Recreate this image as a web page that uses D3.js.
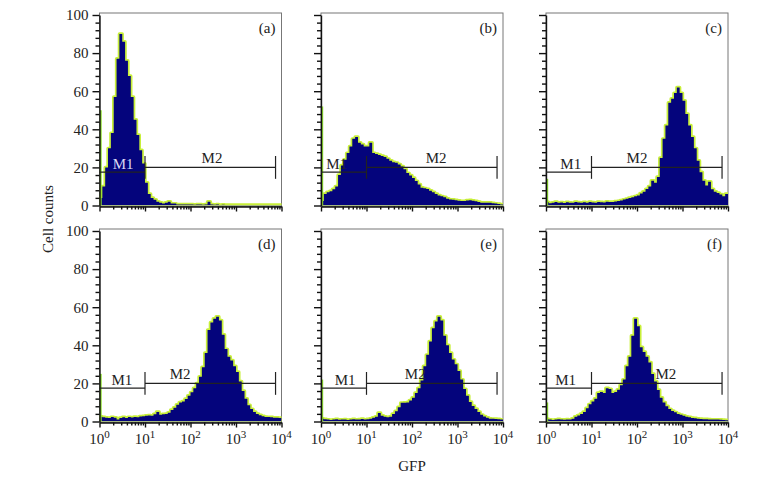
<!doctype html>
<meta charset="utf-8">
<title>GFP flow cytometry histograms</title>
<script src="https://cdn.jsdelivr.net/npm/d3@7"></script>
<style>
body {
  margin: 0;
  background: #fff;
}
svg text {
  font-family: "Liberation Serif", "Times New Roman", serif;
  fill: #222;
}
.axis path, .axis line {
  stroke: #111;
  stroke-width: 1.4;
}
</style>

<svg id="chart" width="772" height="477"></svg>

<script>
// counts per channel, 16 channels per decade from 10^0 to 10^4
var binsPerDecade = 16;

var countsA = [4, 10, 20, 30, 38, 57, 77, 90, 86, 76, 68, 57, 45, 37, 29, 22,
  12, 6, 4, 3, 2, 1.5, 1, 1.5, 2, 1, 1, 0.5, 0.5, 0.5, 0.5, 0.5,
  0.5, 0.4, 0.5, 0.5, 0.4, 0.5, 2, 0.5, 0.4, 0.5, 0.3, 0.4, 0.3, 0.3,
  0.3, 0.3, 0.3, 0.3, 0.3, 0.3, 0.3, 0.3, 0.3, 0.3, 0.3, 0.3, 0.3, 0.3, 0.3, 0.3, 0.3, 0.3];

var countsB = [2.3, 6, 7, 7.5, 8.5, 10, 16, 21, 24, 27.5, 31, 35, 36, 33, 32, 31,
  31, 33, 27.5, 27, 26.5, 26, 25.5, 24.5, 23.5, 22.7, 22.4, 21.5, 20.5, 19, 17, 15.8,
  14.5, 12.8, 11, 9.3, 9, 8.6, 7.8, 7, 6, 5.3, 4.8, 4.3, 3.6, 3.1, 3, 2.8,
  2.5, 2.3, 2.3, 2.6, 2.8, 2.5, 2.2, 1.8, 1.5, 1.5, 1.5, 1.5, 1.2, 1, 0.8, 0.5];

var countsC = [1.7, 1.2, 1.5, 1.8, 1.4, 1.6, 1.3, 1.7, 1.5, 1.4, 1.8, 1.6, 1.5, 1.7, 1.4, 1.9,
  1.6, 1.5, 1.8, 1.7, 1.6, 2, 1.8, 1.9, 2.1, 2.3, 2.6, 3.1, 3.5, 4, 4.3, 4.8,
  5.3, 6.3, 7.2, 8.6, 10, 13, 12, 15, 25, 35, 42, 54, 56, 59, 62, 59,
  55, 48, 42, 36, 30, 23.5, 17.5, 13, 10.5, 12.5, 8.5, 7.2, 6.6, 5.8, 4.9, 6];

var countsD = [2.5, 2.2, 2, 1.8, 2.3, 2, 1, 1.8, 2.2, 1.9, 2.3, 2.1, 2.4, 2.2, 2.6, 2.8,
  3, 3.2, 3, 3.8, 5, 3.5, 3.8, 4, 4.6, 6, 7.2, 8.8, 10, 10.5, 11.8, 13.5,
  15.3, 17.5, 20, 23.5, 28.5, 36, 48, 52, 54, 55, 53, 45.5, 38, 34, 32, 29,
  26, 21, 16, 12, 8.5, 6.5, 5, 4, 3.3, 2.8, 2.4, 2.3, 2.2, 2, 2, 1.8];

var countsE = [1.5, 1.2, 1, 0.8, 1, 1.2, 0.9, 1, 1.1, 0.8, 1, 1.2, 1, 1.1, 1.3, 1,
  1.2, 1.5, 2, 2.5, 4.5, 3, 2.5, 2.2, 2.5, 4, 5.4, 7.5, 9.8, 9.9, 10, 11,
  12.5, 15, 17.5, 21.5, 29, 35, 42, 49, 52.5, 55, 53, 45, 40, 36, 32.5, 30,
  26.5, 22, 17, 13.5, 10.3, 8.2, 6.6, 5, 3.5, 2.6, 2, 1.5, 1.4, 1.3, 1.2, 1];

var countsF = [1.2, 1, 0.8, 1, 1.2, 1, 0.9, 1.1, 1, 1.5, 2.5, 3.2, 4, 5, 7, 9,
  10.5, 12, 15, 15.5, 15, 17.5, 17, 15, 15.5, 16.7, 19, 22, 29, 34, 45, 54,
  50, 39, 36.5, 34, 31, 25, 21, 16.5, 12.5, 10, 8, 6.5, 5.5, 4.8, 4, 3.5,
  3, 2.5, 2.2, 1.9, 1.7, 1.5, 1.3, 1.2, 1.2, 1.1, 1, 1, 1, 0.9, 0.8, 0.7];

var panelNames = ["(a)", "(b)", "(c)", "(d)", "(e)", "(f)"];
var panelCounts = [countsA, countsB, countsC, countsD, countsE, countsF];
// first-channel (off-scale low) spike, counts
var spikeCounts = [50, 52, 14, 25, 22, 10];

// gate markers
var gateM1 = [1, 10], levelM1 = 17.5;
var gateM2 = [10, 7400], levelM2 = 20;
// GFP value under each marker label
var labelM1At = [3.3, 2.2, 3.5, 3.1, 3.4, 2.7];
var labelM2At = [297, 339, 100, 59, 118, 430];

var yTicks = [0, 20, 40, 60, 80, 100];
var xTickExps = [0, 1, 2, 3, 4];

var svg = d3.select("#chart");
var panelW = 182, panelH = 190.5;
var colLeft = [99.5, 321, 546], rowTop = [15, 231];

var x = d3.scaleLog().domain([1, 1e4]).range([0, panelW]);
var y = d3.scaleLinear().domain([0, 100]).range([panelH, 0]);

var defs = svg.append("defs");
defs.append("clipPath").attr("id", "plotClip")
  .append("rect")
  .attr("x", 0).attr("y", -2)
  .attr("width", panelW).attr("height", panelH + 2);

var area = d3.area()
  .curve(d3.curveStepAfter)
  .x(function(d) { return x(d[0]); })
  .y0(y(0))
  .y1(function(d) { return y(d[1]); });

var yMinor = d3.range(0, 101, 4).filter(function(v) { return v % 20 !== 0; });
var xMajor = xTickExps.map(function(e) { return Math.pow(10, e); });
var xMinor = [];
xTickExps.slice(0, -1).forEach(function(e) {
  d3.range(2, 10).forEach(function(m) { xMinor.push(m * Math.pow(10, e)); });
});

panelCounts.forEach(function(counts, i) {
  var col = i % 3, row = Math.floor(i / 3);
  var g = svg.append("g")
    .attr("transform", "translate(" + colLeft[col] + "," + rowTop[row] + ")");

  // frame
  g.append("rect")
    .attr("x", 0).attr("y", -2)
    .attr("width", panelW).attr("height", panelH + 3)
    .attr("fill", "none")
    .attr("stroke", "#777")
    .attr("stroke-width", 1);

  // histogram: lime overlay peeking out behind the navy fill
  var pts = counts.map(function(c, k) { return [Math.pow(10, k / binsPerDecade), c]; });
  pts.push([1e4, counts[counts.length - 1]]);

  var hist = g.append("g").attr("clip-path", "url(#plotClip)");
  hist.append("path")
    .attr("d", area(pts))
    .attr("fill", "#c8ef3a")
    .attr("stroke", "#c8ef3a")
    .attr("stroke-width", 3.4)
    .attr("stroke-linejoin", "round");
  hist.append("path")
    .attr("d", area(pts))
    .attr("fill", "#04047c");
  hist.append("rect")
    .attr("x", 0.2).attr("width", 2)
    .attr("y", y(spikeCounts[i]))
    .attr("height", y(0) - y(spikeCounts[i]))
    .attr("fill", "#8ee02c");

  // axes
  g.append("g").attr("class", "axis")
    .call(d3.axisLeft(y).tickValues(yTicks).tickSize(7).tickSizeOuter(0).tickPadding(4)
      .tickFormat(col === 0 ? d3.format("d") : function() { return ""; }))
    .selectAll("text").style("font-size", "15px").attr("fill", "#222");
  g.append("g").attr("class", "axis")
    .call(d3.axisLeft(y).tickValues(yMinor).tickSize(4).tickSizeOuter(0).tickFormat(""))
    .select(".domain").remove();

  g.append("g").attr("class", "axis")
    .attr("transform", "translate(0," + (panelH + 1) + ")")
    .call(d3.axisBottom(x).tickValues(xMajor).tickSize(5).tickSizeOuter(0).tickFormat(""));
  g.append("g").attr("class", "axis")
    .attr("transform", "translate(0," + (panelH + 1) + ")")
    .call(d3.axisBottom(x).tickValues(xMinor).tickSize(3).tickSizeOuter(0).tickFormat(""))
    .select(".domain").remove();

  if (row === 1) {
    xTickExps.forEach(function(e) {
      var t = g.append("text")
        .attr("x", x(Math.pow(10, e)))
        .attr("y", panelH + 22)
        .attr("text-anchor", "middle")
        .style("font-size", "15px")
        .text("10");
      t.append("tspan")
        .attr("dy", -6)
        .style("font-size", "11px")
        .text(e);
    });
  }

  // gate markers
  var mk = g.append("g").attr("stroke", "#222").attr("stroke-width", 1.2);
  mk.append("line")
    .attr("x1", x(gateM1[0])).attr("x2", x(gateM1[1]))
    .attr("y1", y(levelM1)).attr("y2", y(levelM1));
  mk.append("line")
    .attr("x1", x(gateM2[0])).attr("x2", x(gateM2[1]))
    .attr("y1", y(levelM2)).attr("y2", y(levelM2));
  gateM2.forEach(function(v) {
    mk.append("line")
      .attr("x1", x(v)).attr("x2", x(v))
      .attr("y1", y(levelM2 + 6)).attr("y2", y(levelM2 - 6));
  });

  // label colour: light when it sits on the filled histogram
  function countAt(v) {
    var k = Math.min(counts.length - 1, Math.floor(Math.log10(v) * binsPerDecade));
    return counts[k];
  }
  g.append("text")
    .attr("x", x(labelM1At[i])).attr("y", y(19))
    .attr("text-anchor", "middle")
    .style("font-size", "15px")
    .style("fill", countAt(labelM1At[i]) > 22 ? "#d8d8f2" : "#222")
    .text("M1");
  g.append("text")
    .attr("x", x(labelM2At[i])).attr("y", y(22.5))
    .attr("text-anchor", "middle")
    .style("font-size", "15px")
    .style("fill", countAt(labelM2At[i]) > 25 ? "#d8d8f2" : "#222")
    .text("M2");

  g.append("text")
    .attr("x", panelW - 6).attr("y", 18)
    .attr("text-anchor", "end")
    .style("font-size", "15px")
    .text(panelNames[i]);
});

svg.append("text")
  .attr("transform", "translate(53,219) rotate(-90)")
  .attr("text-anchor", "middle")
  .style("font-size", "15px")
  .text("Cell counts");

svg.append("text")
  .attr("x", 412).attr("y", 471)
  .attr("text-anchor", "middle")
  .style("font-size", "15px")
  .text("GFP");
</script>
